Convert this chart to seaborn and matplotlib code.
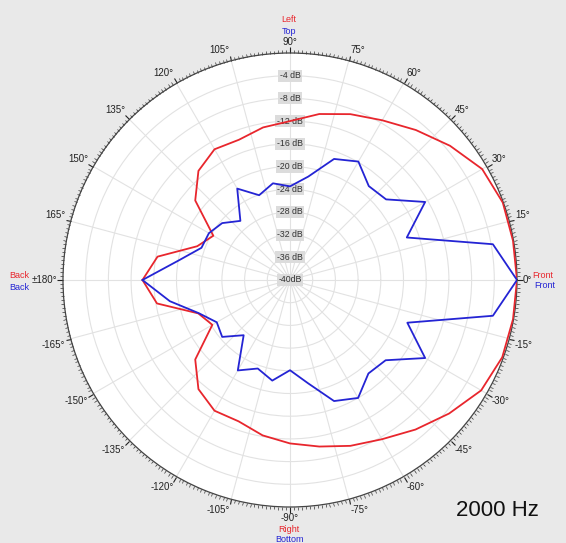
import numpy as np
import matplotlib
matplotlib.use("Agg")
import matplotlib.pyplot as plt
import seaborn as sns
import pandas as pd

# ---- data (degrees, dB) ----
angles_deg = [-180, -170, -160, -150, -140, -130, -120, -110, -100, -90,
              -80, -70, -60, -50, -40, -30, -20, -10,
              0, 10, 20, 30, 40, 50, 60, 70, 80, 90,
              100, 110, 120, 130, 140, 150, 160, 170, 180]
left_right_db = [-14.0, -16.2, -22.8, -24.2, -18.2, -14.9, -13.4, -13.5, -12.2, -11.2,
                 -10.2, -8.9, -7.6, -5.6, -3.4, -1.1, -0.2, -0.1,
                 0.0, -0.1, -0.1, -0.9, -3.2, -5.5, -7.5, -8.9, -10.3, -12.0,
                 -12.7, -13.7, -13.4, -14.9, -18.2, -24.4, -22.6, -16.3, -14.0]
top_bottom_db = [-14.0, -18.5, -22.9, -25.1, -24.4, -27.3, -21.6, -23.4, -22.0, -24.1,
                 -21.5, -17.3, -16.0, -18.5, -18.0, -12.5, -18.0, -3.7,
                 0.0, -3.7, -18.1, -12.5, -17.9, -18.4, -15.9, -17.3, -21.5, -23.5,
                 -22.7, -24.1, -21.4, -26.4, -24.4, -23.5, -23.4, -20.1, -14.0]
ring_db = [-36, -32, -28, -24, -20, -16, -12, -8, -4]
ring_labels = ["-40dB", "-36 dB", "-32 dB", "-28 dB", "-24 dB", "-20 dB",
               "-16 dB", "-12 dB", "-8 dB", "-4 dB"]
ring_label_db = [-40, -36, -32, -28, -24, -20, -16, -12, -8, -4]
angle_ticks = [0, 15, 30, 45, 60, 75, 90, 105, 120, 135, 150, 165, 180,
               195, 210, 225, 240, 255, 270, 285, 300, 315, 330, 345]
angle_tick_labels = ["0°", "15°", "30°", "45°", "60°", "75°", "90°", "105°", "120°",
                     "135°", "150°", "165°", "±180°", "-165°", "-150°", "-135°",
                     "-120°", "-105°", "-90°", "-75°", "-60°", "-45°", "-30°", "-15°"]

RED = "#e8262d"
BLUE = "#2424d4"
BG = "#e9e9e9"

sns.set_theme(style="white")
plt.rcParams["font.family"] = ["Liberation Sans", "DejaVu Sans"]

W, H = 566, 543
fig = plt.figure(figsize=(W / 100, H / 100), dpi=100, facecolor=BG)
cx, cy, R = 290, 280, 227
ax = fig.add_axes([(cx - R) / W, (H - cy - R) / H, 2 * R / W, 2 * R / H],
                  projection="polar")
ax.set_facecolor("white")
ax.set_theta_zero_location("E")
ax.set_theta_direction(1)

df = pd.DataFrame({
    "theta": np.deg2rad(angles_deg * 2),
    "db": left_right_db + top_bottom_db,
    "plane": ["lr"] * len(angles_deg) + ["tb"] * len(angles_deg),
})
sns.lineplot(data=df, x="theta", y="db", hue="plane", palette={"lr": RED, "tb": BLUE},
             sort=False, estimator=None, ax=ax, linewidth=1.3, legend=False, zorder=5)

ax.set_ylim(-40, 0)
ax.set_yticks(ring_db)
ax.set_yticklabels([])
ax.set_xticks(np.deg2rad(angle_ticks))
ax.set_xticklabels([])
ax.set_xticks(np.deg2rad(np.arange(0, 360, 1)), minor=True)
ax.xaxis.grid(True, which="major", color="#e2e2e2", linewidth=0.8)
ax.xaxis.grid(False, which="minor")
ax.yaxis.grid(True, color="#e2e2e2", linewidth=0.8)
ax.tick_params(axis="x", which="both", bottom=False, top=True)
ax.tick_params(axis="x", which="major", direction="out", length=4.0, width=0.8,
               color="#222222", pad=0)
ax.tick_params(axis="x", which="minor", direction="out", length=2.2, width=0.5,
               color="#333333")
ax.spines["polar"].set_color("#444444")
ax.spines["polar"].set_linewidth(0.9)
ax.set_xlabel("")
ax.set_ylabel("")

# angle labels
for a, lab in zip(angle_ticks, angle_tick_labels):
    t = np.deg2rad(a)
    c, s = np.cos(t), np.sin(t)
    ha = "left" if c > 0.2 else ("right" if c < -0.2 else "center")
    va = "bottom" if s > 0.2 else ("top" if s < -0.2 else "center")
    pad = 4.2
    ax.annotate(lab, xy=(t, 0), xytext=(c * pad, s * pad), textcoords="offset points",
                ha=ha, va=va, fontsize=7, color="#222222", annotation_clip=False)

# ring labels
for d, lab in zip(ring_label_db, ring_labels):
    ax.text(np.pi / 2, d, lab, ha="center", va="center", fontsize=6.3, color="#333333",
            zorder=4, bbox=dict(boxstyle="square,pad=0.18", fc="#dcdcdc", ec="none"))

def fx(px):
    return px / W

def fy(py):
    return 1 - py / H

fs = 6.5
fig.text(fx(289), fy(20), "Left", color=RED, ha="center", va="center", fontsize=fs)
fig.text(fx(289), fy(32), "Top", color=BLUE, ha="center", va="center", fontsize=fs)
fig.text(fx(289), fy(529), "Right", color=RED, ha="center", va="center", fontsize=fs)
fig.text(fx(289), fy(539), "Bottom", color=BLUE, ha="center", va="center", fontsize=fs)
fig.text(fx(19), fy(275), "Back", color=RED, ha="center", va="center", fontsize=fs)
fig.text(fx(19), fy(287), "Back", color=BLUE, ha="center", va="center", fontsize=fs)
fig.text(fx(543), fy(276), "Front", color=RED, ha="center", va="center", fontsize=fs)
fig.text(fx(545), fy(286), "Front", color=BLUE, ha="center", va="center", fontsize=fs)
fig.text(fx(497), fy(511), "2000 Hz", color="#111111", ha="center", va="center",
         fontsize=16)

fig.savefig("out.png", dpi=100, facecolor=BG)
